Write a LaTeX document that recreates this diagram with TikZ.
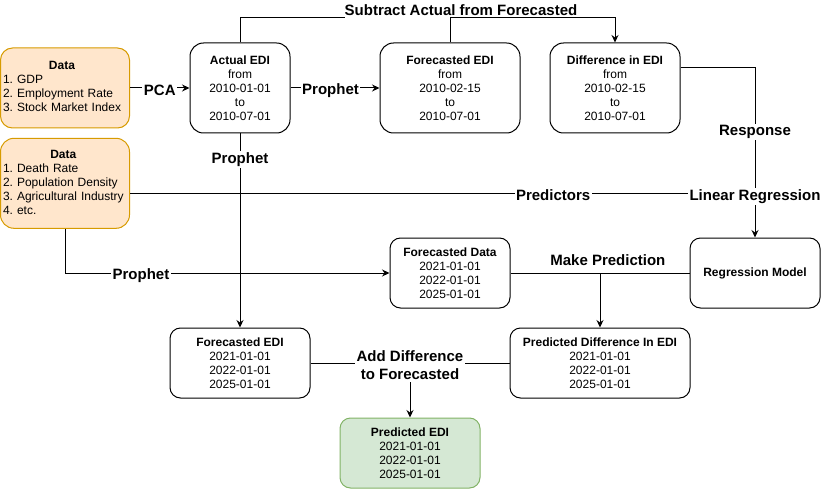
\documentclass[tikz,border=0pt]{standalone}
\usepackage{fontspec}
\setmainfont{Liberation Sans}
\usetikzlibrary{arrows.meta}
\definecolor{orfill}{HTML}{FFE6CC}
\definecolor{ordraw}{HTML}{D79B00}
\definecolor{grfill}{HTML}{D5E8D4}
\definecolor{grdraw}{HTML}{82B366}
\frenchspacing
\begin{document}
\begin{tikzpicture}[x=1pt,y=-1pt,
  line width=1pt,
  box/.style={draw=black, rounded corners=10.5pt, inner sep=0pt, align=center,
    font=\fontsize{12}{14}\selectfont},
  tallbox/.style={box, rounded corners=13.5pt, minimum height=90pt},
  lowbox/.style={box, minimum height=70pt},
  databox/.style={box, draw=ordraw, fill=orfill, inner xsep=2.5pt, inner ysep=0pt,
    text width=124pt, align=left, minimum width=129pt},
  resbox/.style={lowbox, draw=grdraw, fill=grfill},
  lbl/.style={fill=white, inner sep=1.5pt, align=center, yshift=-2.5pt,
    font=\bfseries\fontsize{15}{18}\selectfont},
  arr/.style={-{Stealth[length=7.5pt,width=7pt,inset=2.5pt]}}
]
\useasboundingbox (0,0) rectangle (821,489);

% boxes
\node[databox, minimum height=80pt, rounded corners=12pt] (d1) at (65,88)
  {\begin{tabular}{@{}l@{}}\multicolumn{1}{@{}c@{}}{\textbf{Data}}\\1. GDP\\2. Employment Rate\\3. Stock Market Index\end{tabular}};
\node[databox, minimum height=90pt, rounded corners=13.5pt] (d2) at (65,183.3)
  {\begin{tabular}{@{}l@{}}\multicolumn{1}{@{}c@{}}{\textbf{Data}}\\1. Death Rate\\2. Population Density\\3. Agricultural Industry\\4. etc.\end{tabular}};
\node[tallbox, minimum width=100pt] (act) at (240,88)
  {\textbf{Actual EDI}\\from\\2010-01-01\\to\\2010-07-01};
\node[tallbox, minimum width=140pt] (fedi) at (450,88)
  {\textbf{Forecasted EDI}\\from\\2010-02-15\\to\\2010-07-01};
\node[tallbox, minimum width=130pt] (diff) at (615,88)
  {\textbf{Difference in EDI}\\from\\2010-02-15\\to\\2010-07-01};
\node[lowbox, minimum width=120pt] (fdat) at (450,273)
  {\textbf{Forecasted Data}\\2021-01-01\\2022-01-01\\2025-01-01};
\node[lowbox, minimum width=130pt] (reg) at (755,273)
  {\textbf{Regression Model}};
\node[lowbox, minimum width=180pt] (pd) at (600,363)
  {\textbf{Predicted Difference In EDI}\\2021-01-01\\2022-01-01\\2025-01-01};
\node[lowbox, minimum width=140pt] (fedi2) at (240,363)
  {\textbf{Forecasted EDI}\\2021-01-01\\2022-01-01\\2025-01-01};
\node[resbox, minimum width=140pt] (pedi) at (410,453)
  {\textbf{Predicted EDI}\\2021-01-01\\2022-01-01\\2025-01-01};

% top label and connectors
\node[lbl, fill=none] (sub) at (461,7.5) {Subtract Actual from Forecasted};
\coordinate (subL) at (345,18);
\draw (act.north) |- (subL);
\draw[arr] (fedi.north) -- (fedi.north |- subL) -| (diff.north);

\draw[arr] (d1.east) -- node[lbl]{PCA} (act.west);
\draw[arr] (act.east) -- node[lbl, pos=0.45]{Prophet} (fedi.west);

% predictors line
\coordinate (jn) at (755,193);
\draw (d2.east |- jn) -- node[lbl, pos=0.677]{Predictors} (jn);

% prophet from actual down
\draw[arr] (act.south) -- node[lbl, pos=0.12]{Prophet} (fedi2.north);

% response
\draw[arr] ([yshift=20pt]diff.east) -| node[lbl, pos=0.682]{Response}
  node[lbl, pos=0.873]{Linear Regression} (reg.north);

% data2 to forecasted data
\draw[arr] (d2.south) |- node[lbl, pos=0.617]{Prophet} (fdat.west);

% make prediction
\draw (fdat.east) -- node[lbl, fill=none, pos=0.544, yshift=15.5pt]{Make Prediction} (reg.west);
\draw[arr] (pd.north |- fdat.east) -- (pd.north);

% add difference
\draw (fedi2.east) -- node[lbl] (add) {Add Difference\\to Forecasted} (pd.west);
\draw[arr] (add.south) -- (pedi.north);
\end{tikzpicture}
\end{document}
